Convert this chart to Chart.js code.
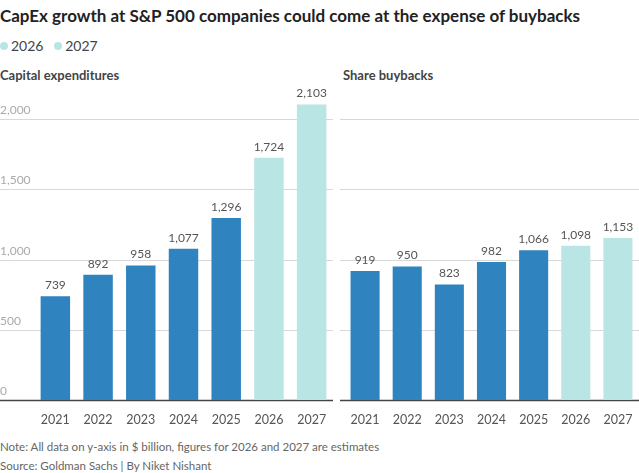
<!DOCTYPE html>
<html><head><meta charset="utf-8">
<script src="https://cdn.jsdelivr.net/npm/chart.js@4"></script>
<style>
body{margin:0;width:639px;height:473px;background:#fff;font-family:Lato,sans-serif;color:#333;position:relative;overflow:hidden}
.t{position:absolute;white-space:nowrap}
#title{left:0;top:5px;font-size:17px;font-weight:bold;color:#222}
#legend{left:0;top:37px;font-size:14px;color:#444}
.dot{display:inline-block;width:8px;height:8px;border-radius:50%;background:#b9e5e4;margin-right:3px;vertical-align:1px}
.sub{top:67px;font-size:13px;font-weight:bold;color:#444}
.note{left:0;font-size:11.5px;color:#666}
canvas{position:absolute}
</style></head><body>
<div class="t" id="title">CapEx growth at S&amp;P 500 companies could come at the expense of buybacks</div>
<div class="t" id="legend"><span class="dot"></span>2026 &nbsp;&nbsp;<span class="dot"></span>2027</div>
<div class="t sub" style="left:0">Capital expenditures</div>
<div class="t sub" style="left:343px">Share buybacks</div>
<div style="position:absolute;left:0;top:80px;width:333px;height:351px"><canvas id="c1"></canvas></div>
<div style="position:absolute;left:340px;top:80px;width:299px;height:351px"><canvas id="c2"></canvas></div>
<div class="t note" style="top:440px">Note: All data on y-axis in $ billion, figures for 2026 and 2027 are estimates</div>
<div class="t note" style="top:459px">Source: Goldman Sachs | By Niket Nishant</div>
<script>
const years = ["2021","2022","2023","2024","2025","2026","2027"];
const capex = [739, 892, 958, 1077, 1296, 1724, 2103];
const buybacks = [919, 950, 823, 982, 1066, 1098, 1153];
const yTicks = [0, 500, 1000, 1500, 2000];
const colors = years.map(y => (y === "2026" || y === "2027") ? "#b9e5e4" : "#2f83bf");

const decor = {
  id: "decor",
  beforeDatasetsDraw(chart, args, opts) {
    const ctx = chart.ctx, y = chart.scales.y;
    ctx.save();
    ctx.font = "12px Lato";
    ctx.textBaseline = "bottom";
    yTicks.forEach(v => {
      const py = Math.round(y.getPixelForValue(v)) + 0.5;
      ctx.strokeStyle = v === 0 ? "#444" : "#d8d8d8";
      ctx.lineWidth = v === 0 ? 1.5 : 1;
      ctx.beginPath(); ctx.moveTo(0, py); ctx.lineTo(chart.width, py); ctx.stroke();
      if (opts.labels) {
        ctx.fillStyle = "#aaa";
        ctx.fillText(v.toLocaleString("en-US"), 0, py - 3);
      }
    });
    ctx.restore();
  },
  afterDatasetsDraw(chart) {
    const ctx = chart.ctx, meta = chart.getDatasetMeta(0);
    ctx.save();
    ctx.font = "12px Lato";
    ctx.fillStyle = "#555";
    ctx.textAlign = "center";
    ctx.textBaseline = "bottom";
    meta.data.forEach((b, i) => {
      ctx.fillText(chart.data.datasets[0].data[i].toLocaleString("en-US"), b.x, b.y - 5);
    });
    ctx.restore();
  }
};

function makeChart(id, data, padLeft, labels) {
  return new Chart(document.getElementById(id), {
    type: "bar",
    data: { labels: years, datasets: [{ data, backgroundColor: colors, categoryPercentage: 0.69, barPercentage: 1 }] },
    options: {
      responsive: true, maintainAspectRatio: false, animation: false,
      layout: { padding: { left: padLeft, right: 0, top: 11 } },
      plugins: { legend: { display: false }, tooltip: { enabled: false }, decor: { labels } },
      scales: {
        x: { grid: { display: false }, border: { display: false },
             ticks: { color: "#555", font: { family: "Lato", size: 12.5 }, padding: 4 } },
        y: { min: 0, max: 2200, display: false }
      }
    },
    plugins: [decor]
  });
}
makeChart("c1", capex, 34, true);
makeChart("c2", buybacks, 4, false);
</script>
</body></html>
